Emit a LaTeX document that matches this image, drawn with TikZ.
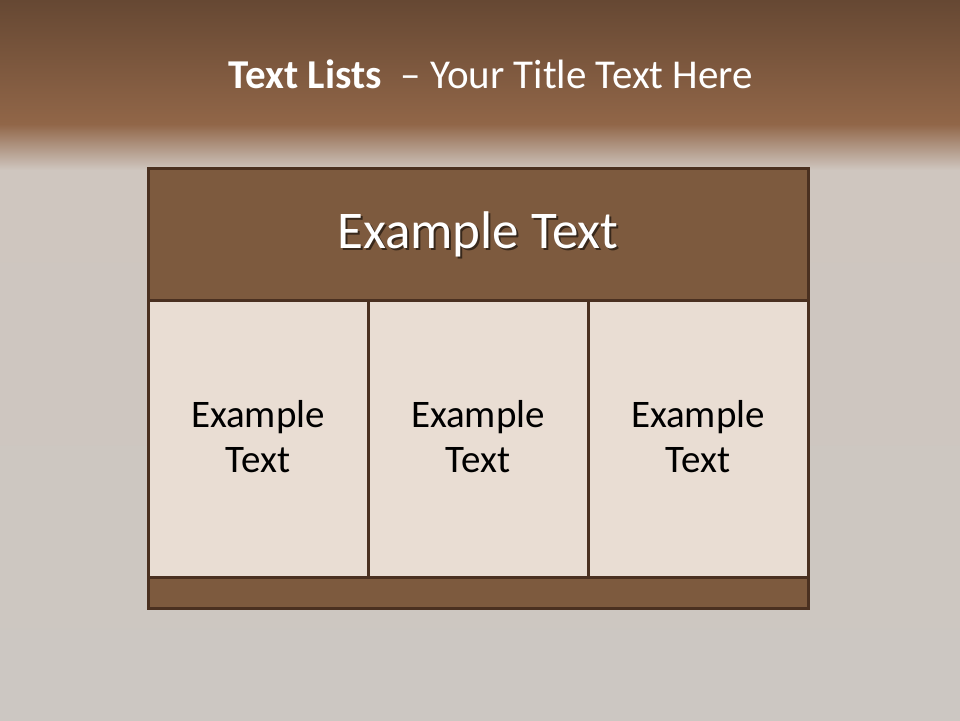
\documentclass[tikz,border=0pt]{standalone}
\usepackage{fontspec}
\setmainfont{Carlito}
\definecolor{bgtop}{HTML}{664833}
\definecolor{bgmid}{HTML}{916648}
\definecolor{bglight}{HTML}{CFC6BF}
\definecolor{bgbot}{HTML}{CCC7C2}
\definecolor{brownfill}{HTML}{7D5A3E}
\definecolor{cellfill}{HTML}{E9DDD3}
\definecolor{edge}{HTML}{4A3020}
\tikzset{
  x=1pt,y=-1pt,
  brownbox/.style={draw=edge,line width=3pt,fill=brownfill},
  cellbox/.style={draw=edge,line width=3pt,fill=cellfill},
  celltext/.style={font=\fontsize{39}{45}\selectfont,align=center,text=black},
  headtext/.style={font=\fontsize{53}{58}\selectfont,text=white},
  shadowtext/.style={font=\fontsize{53}{58}\selectfont,text=black,opacity=0.55},
  titletext/.style={font=\fontsize{41}{44}\selectfont,text=white}
}
\begin{document}
\begin{tikzpicture}
\useasboundingbox (0,0) rectangle (960,720);
% background
\shade[top color=bgtop,bottom color=bgmid] (0,0) rectangle (960,124);
\shade[top color=bgmid,bottom color=bglight] (0,124) rectangle (960,170);
\shade[top color=bglight,bottom color=bgbot] (0,170) rectangle (960,720);
% title
\node[titletext,anchor=base] (title) at (491,88) {\textbf{Text Lists}\ \ – Your Title Text Here};
% table
\path[brownbox] (148,168) rectangle (808,300);
\node[inner sep=0pt,minimum width=660pt,minimum height=132pt] (head) at (478,234) {};
\node[shadowtext] at ([shift={(2,2)}]head.center) {Example Text};
\node[headtext] (headlbl) at (head.center) {Example Text};
\path[cellbox] (148,300) rectangle (368,577);
\path[cellbox] (368,300) rectangle (588,577);
\path[cellbox] (588,300) rectangle (808,577);
\path[brownbox] (148,577) rectangle (808,608);
\node[celltext] (c1) at (258,437) {Example\\Text};
\node[celltext] (c2) at (478,437) {Example\\Text};
\node[celltext] (c3) at (698,437) {Example\\Text};
\end{tikzpicture}
\end{document}
